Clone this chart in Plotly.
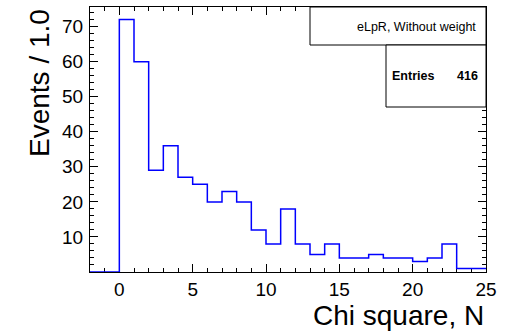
import plotly.graph_objects as go

bin_edges = list(range(-2, 26))
counts = [0, 0, 72, 60, 29, 36, 27, 25, 20, 23, 20, 12, 8, 18, 8, 5, 8, 4, 4, 5, 4, 4, 3, 4, 8, 1, 1]
x_ticks = [0, 5, 10, 15, 20, 25]
y_ticks = [10, 20, 30, 40, 50, 60, 70]
title_text = "eLpR, Without weight"
entries = 416

ys = counts + [counts[-1]]

fig = go.Figure()
fig.add_trace(go.Scatter(x=bin_edges, y=ys, mode="lines", line_shape="hv", cliponaxis=False,
                         line=dict(color="#0000ff", width=1.5), hoverinfo="skip"))

FONT = "Liberation Sans, Arial, sans-serif"
L, R, T, B = 90, 24, 7, 61
W, H = 510, 333
pw, ph = W - L - R, H - T - B

def px(x): return (x - L) / pw
def py(y): return (H - B - y) / ph

fig.update_layout(
    width=W, height=H, margin=dict(l=L, r=R, t=T, b=B, pad=0, autoexpand=False),
    paper_bgcolor="white", plot_bgcolor="white", showlegend=False,
    font=dict(family=FONT, color="black"),
    xaxis=dict(range=[-2, 25], tickvals=x_ticks, ticks="inside", ticklen=8, tickcolor="black",
               showline=True, linecolor="black", linewidth=1, mirror="ticks", showgrid=False,
               zeroline=False, tickfont=dict(size=19), ticklabelstandoff=0, layer="below traces",
               minor=dict(dtick=1, tick0=0, ticks="inside", ticklen=4, tickcolor="black", showgrid=False)),
    yaxis=dict(range=[0, 75.6], tickvals=y_ticks, ticks="inside", ticklen=8, tickcolor="black",
               showline=True, linecolor="black", linewidth=1, mirror="ticks", showgrid=False,
               zeroline=False, tickfont=dict(size=19), ticklabelstandoff=2, layer="below traces",
               minor=dict(dtick=2, tick0=0, ticks="inside", ticklen=4, tickcolor="black", showgrid=False)),
)

fig.add_shape(type="rect", xref="paper", yref="paper", x0=px(310), x1=px(486), y0=py(45), y1=py(7),
              line=dict(color="black", width=1), fillcolor="white", layer="above")
fig.add_shape(type="rect", xref="paper", yref="paper", x0=px(386), x1=px(486), y0=py(107), y1=py(45),
              line=dict(color="black", width=1), fillcolor="white", layer="above")
fig.add_annotation(xref="paper", yref="paper", x=px(478), y=py(27), text=title_text, showarrow=False,
                   xanchor="right", yanchor="middle", font=dict(size=12.5, family=FONT))
fig.add_annotation(xref="paper", yref="paper", x=px(390), y=py(76), text="<b>Entries</b>", showarrow=False,
                   xanchor="left", yanchor="middle", font=dict(size=12.5, family=FONT))
fig.add_annotation(xref="paper", yref="paper", x=px(480), y=py(76), text="<b>%d</b>" % entries, showarrow=False,
                   xanchor="right", yanchor="middle", font=dict(size=12.5, family=FONT))

fig.add_annotation(xref="paper", yref="paper", x=px(486), y=py(315), text="Chi square, N", showarrow=False,
                   xanchor="right", yanchor="middle", font=dict(size=28, family=FONT))
fig.add_annotation(xref="paper", yref="paper", x=px(39), y=py(7), text="Events / 1.0", showarrow=False,
                   textangle=-90, xanchor="center", yanchor="top", font=dict(size=28, family=FONT))

fig.write_html("out.html", config={"displayModeBar": False, "staticPlot": True},
               post_script="document.body.style.margin='0';document.body.style.padding='0';document.documentElement.style.overflow='hidden';")
